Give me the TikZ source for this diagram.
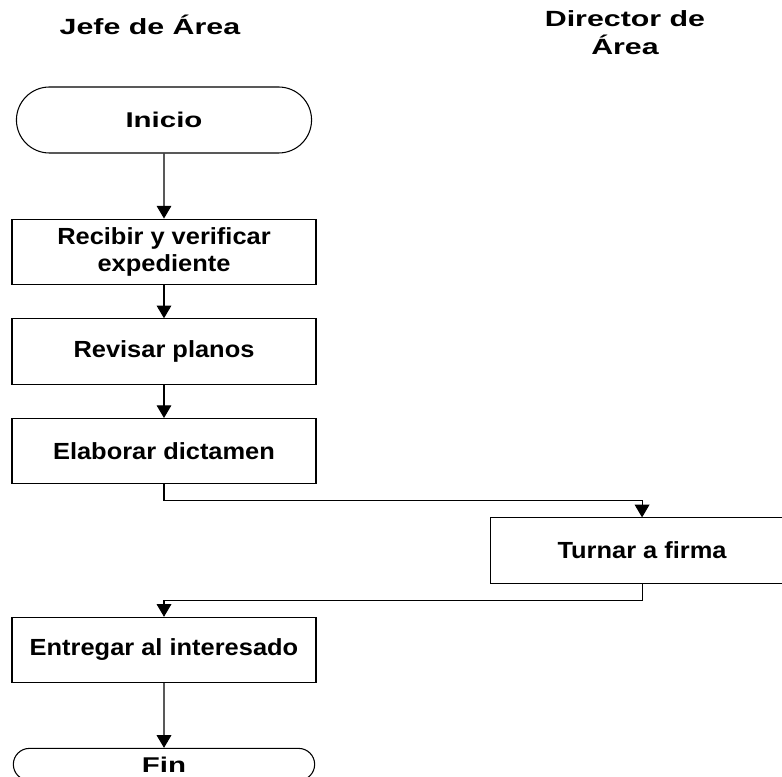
\documentclass[tikz,border=0pt]{standalone}
\usepackage{fontspec}
\newfontfamily\boxfont{Liberation Sans}[FakeStretch=1.09]
\newfontfamily\headfont{Liberation Sans}[FakeStretch=1.38]
\usetikzlibrary{positioning,arrows.meta,shapes.misc}

\begin{document}
\begin{tikzpicture}[
  x=0.75pt,y=-0.75pt,
  node distance=25pt and 129.75pt,
  box/.style={draw,line width=0.8pt,align=center,minimum width=228pt,minimum height=49pt,inner sep=4pt,font=\boxfont\bfseries\fontsize{17.5}{20}\selectfont},
  term/.style={draw,line width=0.8pt,rounded rectangle,minimum width=228pt,minimum height=49.5pt,font=\headfont\bfseries\fontsize{16}{21}\selectfont},
  lane/.style={align=center,font=\headfont\bfseries\fontsize{16.5}{21}\selectfont},
  arr/.style={-{Triangle[length=9.5pt,width=11pt]},line width=0.8pt}
]
\path[use as bounding box,fill=white] (0,0) rectangle (782,777);
\clip (0,0) rectangle (782,777);
% lanes
\node[lane,anchor=base] (jefe) at (150,35) {Jefe de Área};
\node[lane] (director) at (625,32.5) {Director de\\Área};
% steps
\node[term] (inicio) at (164,120) {Inicio};
\node[box,below=48.75pt of inicio] (recibir) {Recibir y verificar\\expediente};
\node[box,below=of recibir] (revisar) {Revisar planos};
\node[box,below=of revisar] (elaborar) {Elaborar dictamen};
\node[box,below right=24.75pt and 129.75pt of elaborar] (turnar) {Turnar a firma};
\coordinate (retorno) at (elaborar |- turnar.south);
\node[box,below=24.75pt of retorno] (entregar) {Entregar al interesado};
\node[term,minimum height=24pt,inner sep=1pt,below=48.5pt of entregar] (fin) {Fin};
\draw[arr] (inicio) -- (recibir);
\draw[arr] (recibir) -- (revisar);
\draw[arr] (revisar) -- (elaborar);
\draw[arr] (elaborar.south) -- ++(0,16) -| (turnar.north);
\draw[arr] (turnar.south) -- ++(0,17) -| (entregar.north);
\draw[arr] (entregar) -- (fin);
\end{tikzpicture}
\end{document}
